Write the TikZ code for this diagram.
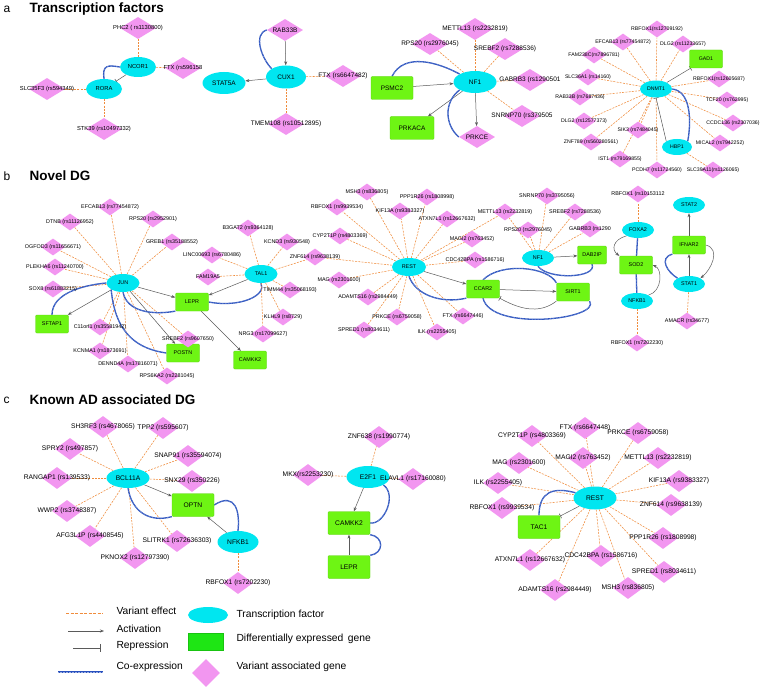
\documentclass[tikz,border=0pt]{standalone}
\usepackage{fontspec}
\setmainfont{Liberation Sans}
\usetikzlibrary{shapes.geometric,arrows.meta}
\definecolor{tfc}{RGB}{0,230,240}
\definecolor{degc}{RGB}{110,245,20}
\definecolor{legdeg}{RGB}{30,230,20}
\definecolor{vgc}{RGB}{242,150,240}
\definecolor{vec}{RGB}{240,140,60}
\definecolor{coexc}{RGB}{40,80,190}
\definecolor{actc}{RGB}{90,90,90}
\pgfdeclarelayer{bgzero}
\pgfdeclarelayer{edges}
\pgfsetlayers{bgzero,edges,main}
\tikzset{
 tf/.style={ellipse, fill=tfc, inner sep=0pt},
 deg/.style={rectangle, rounded corners=1.2pt, fill=degc, draw=degc!85!black, line width=0.3pt, inner sep=0pt},
 vg/.style={diamond, fill=vgc, inner sep=0pt},
 dA/.style={vg, minimum width=36, minimum height=22},
 dS/.style={vg, minimum width=24, minimum height=17},
 dC/.style={vg, minimum width=30, minimum height=22},
 fa/.style={font=\fontsize{5.8}{6}\selectfont},
 fb/.style={font=\fontsize{6.5}{7}\selectfont},
 fd/.style={font=\fontsize{5.2}{6}\selectfont},
 fn/.style={font=\fontsize{5.4}{6}\selectfont},
 fc/.style={font=\fontsize{6.7}{7}\selectfont},
 fL/.style={font=\fontsize{10.3}{11}\selectfont},
 ftitle/.style={font=\fontsize{13.5}{14}\selectfont\bfseries, anchor=west},
 fletter/.style={font=\fontsize{12}{13}\selectfont, anchor=west},
 ve/.style={draw=vec, line width=0.55pt, dash pattern=on 2pt off 1.2pt},
 act/.style={draw=actc, line width=0.5pt, -{Stealth[length=4pt,width=3pt]}},
 rep/.style={draw=actc, line width=0.5pt, -{Bar[width=5pt,line width=0.6pt]}},
 coex/.style={draw=coexc, line width=1.3pt, postaction={draw=white!55!coexc, line width=0.5pt, dash pattern=on 0.5pt off 1pt}},
}
\newcommand\vgn[5]{\node[#1,label={[#2]center:#5}] (#3) at (#4) {};}
\begin{document}
\begin{tikzpicture}[x=1pt,y=-1pt]
\useasboundingbox (0,0) rectangle (760,687);
\begin{pgfonlayer}{bgzero}\fill[white] (0,0) rectangle (760,687);\end{pgfonlayer}

% ---------- titles ----------
\node[fletter] (ta) at (0,9) {a};
\node[ftitle] (tta) at (26,9) {Transcription factors};
\node[fletter] (tb) at (0,176) {b};
\node[ftitle] (ttb) at (26,176) {Novel DG};
\node[fletter] (tc) at (0,400) {c};
\node[ftitle] (ttc) at (26,400) {Known AD associated DG};

% ---------- panel a ----------
\node[tf, minimum width=36, minimum height=20, fa] (a_NCOR1) at (138,67) {NCOR1};
\node[tf, minimum width=36, minimum height=20, fa] (a_RORA) at (104,89) {RORA};
\vgn{dA}{fa}{a_PHC2}{138,28}{PHC2 ( rs1130800)}
\vgn{dA}{fa}{a_FTX1}{183,68}{FTX (rs596158}
\vgn{dA}{fa}{a_SLC35F3}{47,89}{SLC35F3 (rs594349)}
\vgn{dA}{fa}{a_STK39}{104,129}{STK39 (rs10497332)}

\node[tf, minimum width=43, minimum height=22, fb] (a_STAT5A) at (224,83) {STAT5A};
\node[tf, minimum width=40, minimum height=23, fb] (a_CUX1) at (286,77) {CUX1};
\vgn{dA}{fb}{a_RAB33B}{285,30}{RAB33B}
\vgn{dA}{fb}{a_FTX2}{343,76}{FTX (rs6647482)}
\vgn{dA}{fb}{a_TMEM108}{286,124}{TMEM108 (rs10512895)}
\node[deg, minimum width=42, minimum height=23, fb] (a_PSMC2) at (392,88) {PSMC2};
\node[deg, minimum width=44, minimum height=23, fb] (a_PRKACA) at (412,128) {PRKACA};
\node[tf, minimum width=43, minimum height=22, fb] (a_NF1) at (475,82) {NF1};
\vgn{dA}{fb}{a_RPS20}{430,44}{RPS20 (rs2976045)}
\vgn{dA}{fb}{a_METTL13}{475,29}{METTL13 (rs2232819)}
\vgn{dA}{fb}{a_SREBF2}{505,49}{SREBF2 (rs7288536)}
\vgn{dA}{fb}{a_GABRB3}{530,80}{GABRB3 (rs1290501}
\vgn{dA}{fb}{a_SNRNP70}{522,116}{SNRNP70 (rs379505}
\vgn{dA}{fb}{a_PRKCE}{477,137}{PRKCE}

\node[tf, minimum width=32, minimum height=17, fd] (a_DNMT1) at (656,89) {DNMT1};
\node[tf, minimum width=30, minimum height=16, fd] (a_HBP1) at (677,147) {HBP1};
\node[deg, minimum width=33, minimum height=18, fd] (a_GAD1) at (706,59) {GAD1};
\vgn{dS}{fd}{a_RBFOXa}{657,29}{RBFOX1(rs12709192)}
\vgn{dS}{fd}{a_EFCAB13}{623,42}{EFCAB13 (rs77454872)}
\vgn{dS}{fd}{a_DLG2a}{683,44}{DLG2 (rs11233657)}
\vgn{dS}{fd}{a_FAM238C}{594,55}{FAM238C(rs7896781)}
\vgn{dS}{fd}{a_SLC36A1}{588,77}{SLC36A1 (rs14160)}
\vgn{dS}{fd}{a_RBFOXb}{719,79}{RBFOX1(rs12605687)}
\vgn{dS}{fd}{a_RAB33Bb}{580,97}{RAB33B (rs7687436)}
\vgn{dS}{fd}{a_TCF20}{727,100}{TCF20 (rs762995)}
\vgn{dS}{fd}{a_DLG2b}{584,121}{DLG2 (rs12577373)}
\vgn{dS}{fd}{a_SIK3}{638,130}{SIK3 (rs7484045)}
\vgn{dS}{fd}{a_CCDC136}{733,123}{CCDC136 (rs2307036)}
\vgn{dS}{fd}{a_MICAL2}{720,143}{MICAL2 (rs7942252)}
\vgn{dS}{fd}{a_ZNF789}{591,142}{ZNF789 (rs560280561)}
\vgn{dS}{fd}{a_IST1}{620,159}{IST1 (rs79169855)}
\vgn{dS}{fd}{a_PCDH7}{657,170}{PCDH7 (rs11724560)}
\vgn{dS}{fd}{a_SLC39A11}{713,170}{SLC39A11(rs1126065)}

% ---------- panel b ----------
\node[tf, minimum width=33, minimum height=18, fn] (b_JUN) at (123,283) {JUN};
\node[deg, minimum width=33, minimum height=18, fn] (b_LEPR) at (192,302) {LEPR};
\node[deg, minimum width=33, minimum height=18, fn] (b_SFTAP1) at (52,324) {SFTAP1};
\node[deg, minimum width=33, minimum height=18, fn] (b_POSTN) at (183,353) {POSTN};
\vgn{dS}{fn}{b_EFCAB13}{110,207}{EFCAB13 (rs77454872)}
\vgn{dS}{fn}{b_DTNB}{70,222}{DTNB (rs11126952)}
\vgn{dS}{fn}{b_RPS20}{153,219}{RPS20 (rs2952901)}
\vgn{dS}{fn}{b_OGFOD3}{53,247}{OGFOD3 (rs11656671)}
\vgn{dS}{fn}{b_GREB1}{172,242}{GREB1 (rs35188552)}
\vgn{dS}{fn}{b_PLEKHA6}{55,267}{PLEKHA6 (rs11240700)}
\vgn{dS}{fn}{b_SOX8}{53,289}{SOX8 (rs61883215)}
\vgn{dS}{fn}{b_C11orf1}{100,327}{C11orf1 (rs35581942)}
\vgn{dS}{fn}{b_KCNMA1}{100,351}{KCNMA1 (rs1873691)}
\vgn{dS}{fn}{b_DENND4A}{128,364}{DENND4A (rs17816071)}
\vgn{dS}{fn}{b_SREBF2}{188,339}{SREBF2 (rs9607650)}
\vgn{dS}{fn}{b_RPS6KA2}{167,376}{RPS6KA2 (rs2281045)}

\node[tf, minimum width=33, minimum height=18, fn] (b_TAL1) at (261,274) {TAL1};
\node[deg, minimum width=33, minimum height=18, fn] (b_CAMKK2) at (250,360) {CAMKK2};
\vgn{dS}{fn}{b_B3GAT2}{248,228}{B3GAT2 (rs9364128)}
\vgn{dS}{fn}{b_KCND3}{287,242}{KCND3 (rs930548)}
\vgn{dS}{fn}{b_LINC}{212,255}{LINC00693 (rs6780486)}
\vgn{dS}{fn}{b_FAM19A5}{208,277}{FAM19A5}
\vgn{dS}{fn}{b_ZNF614}{315,257}{ZNF614 (rs9638139)}
\vgn{dS}{fn}{b_TIMM44}{290,290}{TIMM44 (rs35068193)}
\vgn{dS}{fn}{b_KLHL9}{283,317}{KLHL9 (rs8729)}
\vgn{dS}{fn}{b_NRG3}{263,334}{NRG3 (rs17099627)}

\node[tf, minimum width=34, minimum height=18, fn] (b_REST) at (409,267) {REST};
\node[deg, minimum width=33, minimum height=18, fn] (b_CCAR2) at (483,289) {CCAR2};
\vgn{dS}{fn}{b_MSH3}{367,192}{MSH3 (rs836805)}
\vgn{dS}{fn}{b_PPP1R26}{427,197}{PPP1R26 (rs1808998)}
\vgn{dS}{fn}{b_RBFOXc}{337,207}{RBFOX1 (rs9939534)}
\vgn{dS}{fn}{b_KIF13A}{400,211}{KIF13A (rs9383327)}
\vgn{dS}{fn}{b_ATXN7L1}{447,219}{ATXN7L1 (rs12667632)}
\vgn{dS}{fn}{b_METTL13}{505,212}{METTL13 (rs2232819)}
\vgn{dS}{fn}{b_CYP2T1P}{340,236}{CYP2T1P (rs4803369)}
\vgn{dS}{fn}{b_MAGI2}{472,239}{MAGI2 (rs763452)}
\vgn{dS}{fn}{b_CDC42BPA}{475,260}{CDC42BPA (rs1586716)}
\vgn{dS}{fn}{b_MAG}{339,280}{MAG (rs2301600)}
\vgn{dS}{fn}{b_ADAMTS16}{368,297}{ADAMTS16 (rs2984449)}
\vgn{dS}{fn}{b_PRKCE}{397,317}{PRKCE (rs6759058)}
\vgn{dS}{fn}{b_FTX}{463,316}{FTX (rs6647446)}
\vgn{dS}{fn}{b_SPRED1}{364,330}{SPRED1 (rs8034611)}
\vgn{dS}{fn}{b_ILK}{437,332}{ILK (rs2255405)}

\node[tf, minimum width=32, minimum height=16, fn] (b_NF1) at (538,258) {NF1};
\node[deg, minimum width=29, minimum height=18, fn] (b_DAB2IP) at (592,255) {DAB2IP};
\node[deg, minimum width=33, minimum height=18, fn] (b_SIRT1) at (573,292) {SIRT1};
\vgn{dS}{fn}{b_SNRNP70}{547,196}{SNRNP70 (rs3795056)}
\vgn{dS}{fn}{b_SREBF2b}{575,212}{SREBF2 (rs7288536)}
\vgn{dS}{fn}{b_RPS20b}{528,230}{RPS20 (rs2976045)}
\vgn{dS}{fn}{b_GABRB3}{590,229}{GABRB3 (rs1290}

\node[tf, minimum width=32, minimum height=16, fn] (b_FOXA2) at (638,230) {FOXA2};
\node[deg, minimum width=33, minimum height=18, fn] (b_SOD2) at (636,265) {SOD2};
\node[tf, minimum width=32, minimum height=16, fn] (b_NFKB1) at (637,301) {NFKB1};
\vgn{dS}{fn}{b_RBFOXd}{638,194}{RBFOX1 (rs10153112}
\vgn{dS}{fn}{b_RBFOXe}{637,343}{RBFOX1 (rs7202230)}
\node[tf, minimum width=32, minimum height=16, fn] (b_STAT2) at (689,205) {STAT2};
\node[deg, minimum width=33, minimum height=18, fn] (b_IFNAR2) at (689,245) {IFNAR2};
\node[tf, minimum width=32, minimum height=16, fn] (b_STAT1) at (689,284) {STAT1};
\vgn{dS}{fn}{b_AMACR}{687,321}{AMACR (rs34677)}

% ---------- panel c ----------
\node[tf, minimum width=43, minimum height=20, fc] (c_BCL11A) at (128,478) {BCL11A};
\node[deg, minimum width=42, minimum height=23, fc] (c_OPTN) at (193,505) {OPTN};
\node[tf, minimum width=41, minimum height=22, fc] (c_NFKB1) at (238,542) {NFKB1};
\vgn{dC}{fc}{c_SH3RF3}{103,427}{SH3RF3 (rs4678065)}
\vgn{dC}{fc}{c_TPP2}{163,428}{TPP2 (rs595607)}
\vgn{dC}{fc}{c_SPRY2}{70,449}{SPRY2 (rs497857)}
\vgn{dC}{fc}{c_SNAP91}{188,456}{SNAP91 (rs35594074)}
\vgn{dC}{fc}{c_RANGAP1}{57,478}{RANGAP1 (rs139533)}
\vgn{dC}{fc}{c_SNX29}{192,481}{SNX29 (rs350226)}
\vgn{dC}{fc}{c_WWP2}{67,511}{WWP2 (rs3748387)}
\vgn{dC}{fc}{c_AFG3L1P}{90,536}{AFG3L1P (rs4408545)}
\vgn{dC}{fc}{c_SLITRK1}{177,541}{SLITRK1 (rs72636303)}
\vgn{dC}{fc}{c_PKNOX2}{135,558}{PKNOX2 (rs12797390)}
\vgn{dC}{fc}{c_RBFOXa}{238,583}{RBFOX1 (rs7202230)}

\node[tf, minimum width=43, minimum height=22, fc] (c_E2F1) at (368,477) {E2F1};
\node[deg, minimum width=42, minimum height=23, fc] (c_CAMKK2) at (349,523) {CAMKK2};
\node[deg, minimum width=42, minimum height=23, fc] (c_LEPR) at (349,567) {LEPR};
\vgn{dC}{fc}{c_ZNF638}{379,437}{ZNF638 (rs1990774)}
\vgn{dC}{fc}{c_MKX}{308,475}{MKX(rs2253230)}
\vgn{dC}{fc}{c_ELAVL1}{413,479}{ELAVL1 (rs17160080)}

\node[tf, minimum width=43, minimum height=23, fc] (c_REST) at (595,498) {REST};
\node[deg, minimum width=42, minimum height=23, fc] (c_TAC1) at (539,527) {TAC1};
\vgn{dC}{fc}{c_FTX}{585,428}{FTX (rs6647448)}
\vgn{dC}{fc}{c_CYP2T1P}{532,436}{CYP2T1P (rs4803369)}
\vgn{dC}{fc}{c_PRKCE}{638,433}{PRKCE (rs6759058)}
\vgn{dC}{fc}{c_MAGI2}{583,458}{MAGI2 (rs763452)}
\vgn{dC}{fc}{c_METTL13}{658,458}{METTL13 (rs2232819)}
\vgn{dC}{fc}{c_MAG}{519,463}{MAG (rs2301600)}
\vgn{dC}{fc}{c_ILK}{498,483}{ILK (rs2255405)}
\vgn{dC}{fc}{c_KIF13A}{679,481}{KIF13A (rs9383327)}
\vgn{dC}{fc}{c_RBFOXb}{502,508}{RBFOX1 (rs9939534)}
\vgn{dC}{fc}{c_ZNF614}{671,505}{ZNF614 (rs9638139)}
\vgn{dC}{fc}{c_PPP1R26}{663,538}{PPP1R26 (rs1808998)}
\vgn{dC}{fc}{c_CDC42BPA}{601,556}{CDC42BPA (rs1586716)}
\vgn{dC}{fc}{c_ATXN7L1}{530,560}{ATXN7L1 (rs12667632)}
\vgn{dC}{fc}{c_SPRED1}{664,572}{SPRED1 (rs8034611)}
\vgn{dC}{fc}{c_MSH3}{628,588}{MSH3 (rs836805)}
\vgn{dC}{fc}{c_ADAMTS16}{555,590}{ADAMTS16 (rs2984449)}

% ---------- legend ----------
\coordinate (l1a) at (66,613); \coordinate (l1b) at (103,613);
\coordinate (l2a) at (68,631); \coordinate (l2b) at (104,631);
\coordinate (l3a) at (73,648); \coordinate (l3b) at (101,648);
\coordinate (l4a) at (58,672); \coordinate (l4b) at (103,672);
\node[fL, anchor=west] (lt1) at (113,611) {Variant effect};
\node[fL, anchor=west] (lt2) at (113,629) {Activation};
\node[fL, anchor=west] (lt3) at (113,646) {Repression};
\node[fL, anchor=west] (lt4) at (113,667) {Co-expression};
\node[tf, minimum width=40, minimum height=16] (lg_tf) at (208,615) {};
\node[deg, rounded corners=0pt, fill=legdeg, draw=legdeg!85!black, minimum width=35, minimum height=17] (lg_deg) at (206,642) {};
\node[vg, minimum width=28, minimum height=28] (lg_vg) at (206,673) {};
\node[fL, anchor=west] (lt5) at (233,615) {Transcription factor};
\node[fL, anchor=west] (lt6) at (233,639) {Differentially expressed\, gene};
\node[fL, anchor=west] (lt7) at (233,667) {Variant associated gene};

% ---------- edges ----------
\begin{pgfonlayer}{edges}
\draw[ve, line width=0.8pt, dash pattern=on 3pt off 1.5pt] (l1a) -- (l1b);
\draw[act] (l2a) -- (l2b);
\draw[rep, -{Bar[width=8pt,line width=0.7pt]}] (l3a) -- (l3b);
\draw[coex] (l4a) -- (l4b);

% panel a
\foreach \t in {a_PHC2,a_FTX1} \draw[ve] (a_NCOR1) -- (\t);
\foreach \t in {a_SLC35F3,a_STK39} \draw[ve] (a_RORA) -- (\t);
\draw[rep] (a_NCOR1) -- (a_RORA);
\draw[coex] (a_RORA.north) .. controls +(-2,-14) and +(-12,-2) .. (a_NCOR1.west);
\foreach \t in {a_FTX2,a_TMEM108} \draw[ve] (a_CUX1) -- (\t);
\draw[act] (a_RAB33B) -- (a_CUX1);
\draw[act] (a_CUX1) -- (a_STAT5A);
\draw[coex] (a_RAB33B.west) .. controls +(-14,4) and +(-10,-10) .. (a_CUX1.north west);
\foreach \t in {a_METTL13,a_RPS20,a_SREBF2,a_GABRB3,a_SNRNP70} \draw[ve] (a_NF1) -- (\t);
\draw[act] (a_PSMC2) -- (a_NF1);
\draw[act] (a_NF1) -- (a_PRKACA);
\draw[act] (a_NF1) -- (a_PRKCE);
\draw[coex] (a_PSMC2.north) .. controls +(12,-24) and +(-22,-12) .. (a_NF1.north west);
\draw[coex] (a_NF1.south west) .. controls +(-16,12) and +(-14,-12) .. (a_PRKCE.west);
\foreach \t in {a_RBFOXa,a_EFCAB13,a_DLG2a,a_FAM238C,a_SLC36A1,a_RBFOXb,a_RAB33Bb,a_TCF20,a_DLG2b,a_SIK3,a_CCDC136,a_MICAL2,a_ZNF789,a_IST1,a_PCDH7} \draw[ve] (a_DNMT1) -- (\t);
\draw[ve] (a_HBP1) -- (a_SLC39A11);
\draw[rep] (a_DNMT1) -- (a_GAD1);
\draw[rep] (a_HBP1.north west) -- (a_DNMT1.south);
\draw[coex] (a_DNMT1.east) .. controls +(18,2) and +(4,-22) .. (a_HBP1.north east);

% panel b
\foreach \t in {b_EFCAB13,b_DTNB,b_RPS20,b_OGFOD3,b_GREB1,b_PLEKHA6,b_SOX8,b_C11orf1,b_KCNMA1,b_DENND4A,b_SREBF2,b_RPS6KA2} \draw[ve] (b_JUN) -- (\t);
\draw[act] (b_JUN) -- (b_LEPR);
\draw[act] (b_JUN) -- (b_SFTAP1);
\draw[act] (b_JUN) -- (b_POSTN);
\draw[act] (b_TAL1) -- (b_LEPR);
\draw[act] (b_LEPR) -- (b_CAMKK2);
\draw[coex] (b_SFTAP1.north) .. controls +(0,-22) and +(-22,2) .. (b_JUN.west);
\draw[coex] (b_JUN.south) .. controls +(4,20) and +(-22,4) .. (b_LEPR.south west);
\draw[coex] (b_JUN.south west) .. controls +(4,45) and +(-28,-4) .. (b_POSTN.west);
\draw[coex] (b_LEPR.east) .. controls +(32,6) and +(6,12) .. (b_TAL1.south);
\foreach \t in {b_B3GAT2,b_KCND3,b_LINC,b_FAM19A5,b_ZNF614,b_TIMM44,b_KLHL9,b_NRG3} \draw[ve] (b_TAL1) -- (\t);
\foreach \t in {b_MSH3,b_PPP1R26,b_RBFOXc,b_KIF13A,b_ATXN7L1,b_METTL13,b_CYP2T1P,b_MAGI2,b_CDC42BPA,b_MAG,b_ADAMTS16,b_PRKCE,b_FTX,b_SPRED1,b_ILK,b_ZNF614} \draw[ve] (b_REST) -- (\t);
\draw[act] (b_REST) -- (b_CCAR2);
\draw[coex] (b_REST.south) .. controls +(6,18) and +(-26,6) .. (b_CCAR2.south west);
\foreach \t in {b_SNRNP70,b_SREBF2b,b_RPS20b,b_GABRB3,b_METTL13} \draw[ve] (b_NF1) -- (\t);
\draw[act] (b_NF1) -- (b_DAB2IP);
\draw[coex] (b_NF1.south) .. controls +(10,14) and +(6,14) .. (b_DAB2IP.south);
\draw[act] (b_CCAR2) -- (b_SIRT1);
\draw[coex] (b_CCAR2.north) .. controls +(18,-18) and +(-8,-16) .. (b_SIRT1.north west);
\draw[coex] (b_CCAR2.south) .. controls +(8,34) and +(12,18) .. (b_SIRT1.south east);
\draw[rep] (b_SIRT1.south west) .. controls +(-18,14) and +(18,10) .. (b_CCAR2.south east);
\draw[ve] (b_FOXA2) -- (b_RBFOXd);
\draw[ve] (b_NFKB1) -- (b_RBFOXe);
\draw[coex] (b_FOXA2) -- (b_SOD2);
\draw[coex] (b_SOD2) -- (b_NFKB1);
\draw[act] (b_FOXA2.south west) .. controls +(-14,4) and +(-8,-6) .. (b_SOD2.north west);
\draw[act] (b_NFKB1.north east) .. controls +(14,-4) and +(10,4) .. (b_SOD2.east);
\draw[act] (b_IFNAR2) -- (b_STAT2);
\draw[act, line width=0.9pt] (b_STAT1) -- (b_IFNAR2);
\draw[act] (b_IFNAR2.east) .. controls +(16,4) and +(10,-8) .. (b_STAT1.north east);
\draw[coex] (b_IFNAR2.south west) .. controls +(-14,4) and +(-10,-6) .. (b_STAT1.north west);
\draw[ve] (b_STAT1) -- (b_AMACR);

% panel c
\foreach \t in {c_SH3RF3,c_TPP2,c_SPRY2,c_SNAP91,c_RANGAP1,c_SNX29,c_WWP2,c_AFG3L1P,c_SLITRK1,c_PKNOX2} \draw[ve] (c_BCL11A) -- (\t);
\draw[act] (c_BCL11A) -- (c_OPTN);
\draw[act] (c_NFKB1) -- (c_OPTN);
\draw[coex] (c_BCL11A.south) .. controls +(4,24) and +(-22,6) .. (c_OPTN.south west);
\draw[coex] (c_OPTN.east) .. controls +(22,-14) and +(2,-18) .. (c_NFKB1.north);
\draw[ve] (c_NFKB1) -- (c_RBFOXa);
\foreach \t in {c_ZNF638,c_MKX,c_ELAVL1} \draw[ve] (c_E2F1) -- (\t);
\draw[act] (c_E2F1) -- (c_CAMKK2);
\draw[act] (c_LEPR) -- (c_CAMKK2);
\draw[coex] (c_E2F1.south east) .. controls +(14,10) and +(14,2) .. (c_CAMKK2.east);
\draw[coex] (c_CAMKK2.south east) .. controls +(14,2) and +(14,-2) .. (c_LEPR.north east);
\foreach \t in {c_FTX,c_CYP2T1P,c_PRKCE,c_MAGI2,c_METTL13,c_MAG,c_ILK,c_KIF13A,c_RBFOXb,c_ZNF614,c_PPP1R26,c_CDC42BPA,c_ATXN7L1,c_SPRED1,c_MSH3,c_ADAMTS16} \draw[ve] (c_REST) -- (\t);
\draw[rep] (c_REST) -- (c_TAC1);
\draw[coex] (c_TAC1.north) .. controls +(0,-24) and +(-22,-6) .. (c_REST.165);
\end{pgfonlayer}
\end{tikzpicture}
\end{document}
